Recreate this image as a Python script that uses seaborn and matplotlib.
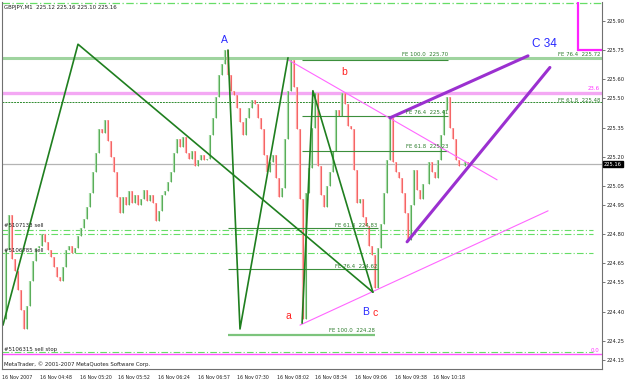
import matplotlib
matplotlib.use("Agg")
import matplotlib.pyplot as plt
from matplotlib import font_manager as fm
import seaborn as sns
import pandas as pd

# ---------------- data ----------------
closes = [
    224.36, 224.72, 224.90, 224.67, 224.61, 224.51, 224.41, 224.31, 224.43, 224.56,
    224.66, 224.73, 224.74, 224.80, 224.76, 224.72, 224.68, 224.63, 224.58, 224.56,
    224.63, 224.72, 224.74, 224.70, 224.73, 224.79, 224.83, 224.88, 224.94, 225.01,
    225.12, 225.22, 225.34, 225.32, 225.39, 225.28, 225.20, 225.12, 224.99, 224.91,
    224.99, 224.95, 225.02, 224.96, 225.00, 224.95, 224.98, 225.03, 224.97, 225.00,
    224.96, 224.87, 224.92, 225.00, 225.02, 225.07, 225.12, 225.22, 225.29, 225.25,
    225.30, 225.22, 225.19, 225.23, 225.15, 225.18, 225.21, 225.18, 225.19, 225.31,
    225.40, 225.51, 225.62, 225.68, 225.75, 225.62, 225.54, 225.52, 225.45, 225.38,
    225.31, 225.40, 225.45, 225.49, 225.47, 225.40, 225.34, 225.21, 225.12, 225.17,
    225.21, 225.09, 224.99, 225.04, 225.29, 225.54, 225.70, 225.56, 225.34, 224.98,
    224.36, 225.01, 225.14, 225.35, 225.53, 225.15, 225.00, 224.94, 225.05, 225.12,
    225.23, 225.44, 225.41, 225.53, 225.47, 225.36, 225.34, 225.13, 224.96, 224.98,
    224.89, 224.84, 224.74, 224.69, 224.52, 224.73, 224.85, 225.01, 225.18, 225.40,
    225.17, 225.12, 225.09, 225.01, 224.91, 224.77, 224.95, 225.13, 225.03, 224.98,
    225.06, 225.06, 225.17, 225.12, 225.09, 225.18, 225.31, 225.44, 225.51, 225.35,
    225.29, 225.18, 225.15, 225.15, 225.17, 225.16,
]
bar_idx = list(range(len(closes)))

time_tick_pos = [-0.33, 12.3, 25.7, 38.3, 51.7, 65, 78, 91.3, 104, 117.3, 130.7, 143.3]
time_tick_labels = ["16 Nov 2007", "16 Nov 04:48", "16 Nov 05:20", "16 Nov 05:52",
                    "16 Nov 06:24", "16 Nov 06:57", "16 Nov 07:30", "16 Nov 08:02",
                    "16 Nov 08:34", "16 Nov 09:06", "16 Nov 09:38", "16 Nov 10:18"]
price_ticks = [225.90, 225.75, 225.60, 225.50, 225.35, 225.20, 225.05, 224.95,
               224.80, 224.65, 224.55, 224.40, 224.25, 224.15]
last_price = 225.16

# zigzag wave lines (bar index, price)
wave1_idx = [0, 25, 123.3]
wave1_price = [224.33, 225.78, 224.50]
wave2_idx = [75, 79, 95]
wave2_price = [225.75, 224.31, 225.71]
wave3_idx = [99.7, 103.3, 123.3]
wave3_price = [224.34, 225.54, 224.50]

# pink trend lines
pink1_idx = [95, 164.7]
pink1_price = [225.70, 225.08]
pink2_idx = [99, 181.7]
pink2_price = [224.33, 224.92]

# purple channel
purple1_idx = [129, 175]
purple1_price = [225.40, 225.72]
purple2_idx = [134.7, 182.3]
purple2_price = [224.76, 225.66]

# Fibonacci expansion levels
fe_up_levels = [225.70, 225.41, 225.23]
fe_up_labels = ["FE 100.0  225.70", "FE 76.4  225.41", "FE 61.8  225.23"]
fe_up_span = [99.7, 148.3]
fe_lo_levels = [224.83, 224.62]
fe_lo_labels = ["FE 61.8  224.83", "FE 76.4  224.62"]
fe_lo_span = [75, 125]
fe_lo_100 = 224.28
fe_lo_100_label = "FE 100.0  224.28"

# full width levels
fe_right_764 = 225.71
fe_right_618 = 225.48
fib_236 = 225.53
fib_00 = 224.18
order_levels = [224.82, 224.80, 224.70, 224.19]
top_level = 225.995
order_labels = ["#5107133 sell", "#5106785 sell", "#5106315 sell stop"]
magenta_idx = 191.7
magenta_price = 225.75

# ---------------- fonts ----------------
sns.set_style("white")
_names = {f.name for f in fm.fontManager.ttflist}
if "Liberation Sans Narrow" in _names:
    FAM = dict(family=["Liberation Sans Narrow", "DejaVu Sans"])
    FS = 4.8
elif "DejaVu Sans Condensed" in _names:
    FAM = dict(family=["DejaVu Sans Condensed", "DejaVu Sans"])
    FS = 4.2
else:
    FAM = dict(family=["DejaVu Sans"], fontstretch="condensed")
    FS = 3.9
plt.rcParams['font.family'] = ['DejaVu Sans']
TXT = dict(fontsize=FS * 1.1, **FAM)
YLAB = dict(fontsize=FS * 1.07, **FAM)
XLAB = dict(fontsize=FS * 0.97, **FAM)

# ---------------- drawing ----------------
W, H = 625, 380
fig = plt.figure(figsize=(W / 100, H / 100), dpi=100)
ax = fig.add_axes([2 / W, 11 / H, 600 / W, 367 / H])
ax.set_xlim(-0.33, 199.67)
ax.set_ylim(224.1034, 225.998)

dashdot = (0, (6, 2, 1, 2))
ax.axhline(top_level, color="#66dd66", lw=0.9, ls=dashdot)
ax.axhline(fe_right_764, color="#9fd49f", lw=2.2)
ax.axhline(fib_236, color="#f4a8f4", lw=2.4)
ax.axhline(fe_right_618, color="#2e8b2e", lw=0.7, ls=(0, (2, 1)))
ax.axhline(last_price, color="#b4b4b4", lw=0.9)
for lv in order_levels:
    ax.axhline(lv, xmax=0.985, color="#66dd66", lw=0.8, ls=dashdot)
ax.axhline(fib_00, color="#ff55ff", lw=1.0)

# candles
opens = [closes[0]] + closes[:-1]
up = [(i, o, c) for i, o, c in zip(bar_idx, opens, closes) if c >= o]
dn = [(i, o, c) for i, o, c in zip(bar_idx, opens, closes) if c < o]
ax.vlines([u[0] for u in up], [u[1] for u in up], [u[2] for u in up], color="#a6daa6", lw=1.6)
ax.vlines([u[0] for u in up], [u[1] for u in up], [u[2] for u in up], color="#3a9a3a", lw=0.5)
ax.vlines([d[0] for d in dn], [d[1] for d in dn], [d[2] for d in dn], color="#ffa8a8", lw=1.6)
ax.vlines([d[0] for d in dn], [d[1] for d in dn], [d[2] for d in dn], color="#f04848", lw=0.5)

# FE segments
for lv in fe_up_levels:
    ax.hlines(lv, fe_up_span[0], fe_up_span[1], color="#3c8f3c", lw=0.8)
for lv in fe_lo_levels:
    ax.hlines(lv, fe_lo_span[0], fe_lo_span[1], color="#3c8f3c", lw=0.8)
ax.hlines(fe_lo_100, fe_lo_span[0], fe_lo_span[1] - 1, color="#7cc47c", lw=1.6)

def seg(xs, ys, color, lw):
    df = pd.DataFrame({"x": xs, "y": ys})
    sns.lineplot(data=df, x="x", y="y", ax=ax, color=color, lw=lw,
                 sort=False, estimator=None, legend=False)

seg(pink1_idx, pink1_price, "#ff66ff", 0.8)
seg(pink2_idx, pink2_price, "#ff66ff", 0.8)
seg(wave1_idx, wave1_price, "#1f7f1f", 1.2)
seg(wave2_idx, wave2_price, "#1f7f1f", 1.2)
seg(wave3_idx, wave3_price, "#1f7f1f", 1.2)
seg(purple1_idx, purple1_price, "#9b30d0", 2.2)
seg(purple2_idx, purple2_price, "#9b30d0", 2.2)

ax.plot([magenta_idx, magenta_idx, 199.67], [226.1, magenta_price, magenta_price],
        color="#ff22ff", lw=1.6, solid_joinstyle="miter")

ax.set_xlabel("")
ax.set_ylabel("")

# axes
ax.yaxis.tick_right()
ax.set_yticks(price_ticks)
ax.set_yticklabels([f"{p:.2f}" for p in price_ticks], color="#202020", **YLAB)
ax.tick_params(axis="y", length=2, pad=1, width=0.6, color="#606060")
ax.set_xticks(time_tick_pos)
ax.set_xticklabels(time_tick_labels, ha="left", color="#202020", **XLAB)
ax.tick_params(axis="x", length=3, pad=1, width=0.6, color="#606060", direction="out")
for s in ax.spines.values():
    s.set_color("#707070")
    s.set_linewidth(0.8)
ax.spines["top"].set_visible(False)

def T(px, py, s, **kw):
    fig.text(px / W, 1 - py / H, s, **kw)

small = dict(va="center", **TXT)
T(4, 7, "GBPJPY,M1  225.12 225.16 225.10 225.16", color="#202020", **small)
T(4, 364, "MetaTrader, \u00a9 2001-2007 MetaQuotes Software Corp.", color="#202020", **small)
T(4, 226, order_labels[0], color="#202020", **small)
T(4, 250, order_labels[1], color="#202020", **small)
T(4, 350, order_labels[2], color="#202020", **small)

T(448, 55, fe_up_labels[0], color="#2e7d2e", ha="right", **small)
T(448, 113, fe_up_labels[1], color="#2e7d2e", ha="right", **small)
T(448, 147, fe_up_labels[2], color="#2e7d2e", ha="right", **small)
T(377, 226, fe_lo_labels[0], color="#2e7d2e", ha="right", **small)
T(377, 266, fe_lo_labels[1], color="#2e7d2e", ha="right", **small)
T(375, 331, fe_lo_100_label, color="#2e7d2e", ha="right", **small)
T(600, 55, "FE 76.4  225.72", color="#2e7d2e", ha="right", **small)
T(600, 100, "FE 61.8  225.48", color="#2e7d2e", ha="right", **small)
T(600, 89, "23.6", color="#ff33ff", ha="right", **small)
T(599, 351, "0.0", color="#ff33ff", ha="right", **small)

lab = dict(family=["Liberation Sans", "DejaVu Sans"], ha="center", va="center")
T(224, 40, "A", color="#2828ff", fontsize=7.5, **lab)
T(344, 72, "b", color="#ff2020", fontsize=7.5, **lab)
T(288, 316, "a", color="#ff2020", fontsize=7.5, **lab)
T(366, 312, "B", color="#2828ff", fontsize=7.5, **lab)
T(375, 313, "c", color="#ff2020", fontsize=7.5, **lab)
T(544, 44, "C 34", color="#2828ff", fontsize=8.5, **lab)

T(604, 164, f"{last_price:.2f}", color="white", va="center", ha="left",
  bbox=dict(boxstyle="square,pad=0.15", fc="black", ec="black"), **YLAB)

fig.savefig("out.png", dpi=100, facecolor="white")
